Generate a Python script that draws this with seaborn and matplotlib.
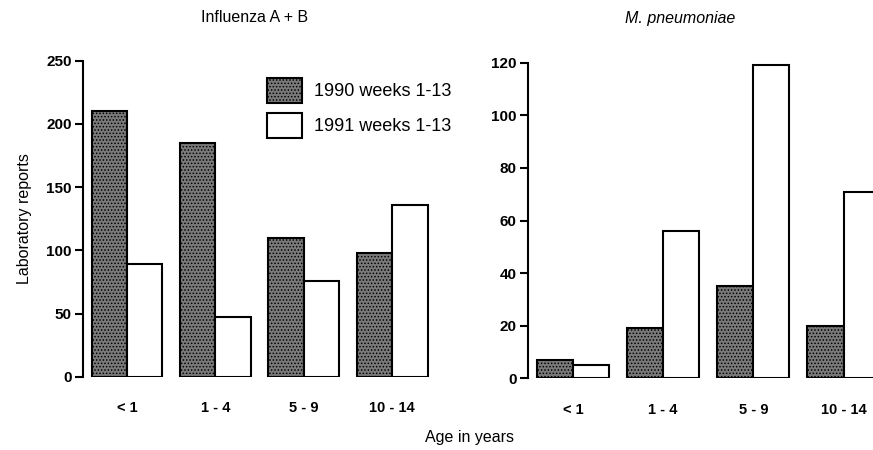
import numpy as np
import pandas as pd
import seaborn as sns
import matplotlib.pyplot as plt
from matplotlib.patches import Patch

ages = ['< 1', '1 - 4', '5 - 9', '10 - 14']
years = ['1990 weeks 1-13', '1991 weeks 1-13']
flu_1990 = [210, 185, 110, 98]
flu_1991 = [89, 47, 76, 136]
myco_1990 = [7, 19, 35, 20]
myco_1991 = [5, 56, 119, 71]

sns.set_style('white')
plt.rcParams['font.family'] = ['Liberation Sans', 'DejaVu Sans']
plt.rcParams['text.color'] = 'black'
plt.rcParams['axes.labelcolor'] = 'black'
plt.rcParams['xtick.color'] = 'black'
plt.rcParams['ytick.color'] = 'black'
plt.rcParams['hatch.color'] = '#303030'
plt.rcParams['hatch.linewidth'] = 0.7

def make_df(a, b):
    return pd.DataFrame({'age': ages * 2,
                         'year': [years[0]] * 4 + [years[1]] * 4,
                         'reports': a + b})

pal = {years[0]: '#7a7a7a', years[1]: 'white'}

fig = plt.figure(figsize=(8.73, 4.5), dpi=100)
ax1 = fig.add_axes([0.0947, 0.1629, 0.4052, 0.7021])
ax2 = fig.add_axes([0.6045, 0.1593, 0.4135, 0.7014])

for ax, df, ymax, step in [(ax1, make_df(flu_1990, flu_1991), 250, 50),
                           (ax2, make_df(myco_1990, myco_1991), 120, 20)]:
    sns.barplot(data=df, x='age', y='reports', hue='year', palette=pal,
                order=ages, hue_order=years, width=0.8, ax=ax,
                edgecolor='black', linewidth=1.5, legend=False)
    for p in ax.patches[:4]:
        p.set_hatch('.....')
    ax.set_xlim(-0.5, 3.5)
    ax.set_ylim(0, ymax)
    ax.set_yticks(np.arange(0, ymax + 1, step))
    ax.set_xlabel('')
    ax.set_ylabel('')
    for s in ['top', 'right', 'bottom']:
        ax.spines[s].set_visible(False)
    ax.spines['left'].set_linewidth(1.5)
    ax.spines['left'].set_color('black')
    ax.tick_params(axis='y', left=True, length=6, width=1.5, labelsize=11, pad=2)
    ax.tick_params(axis='x', bottom=False, labelsize=10.5, pad=14)
    for t in ax.get_xticklabels() + ax.get_yticklabels():
        t.set_fontweight('bold')

ax1.set_ylabel('Laboratory reports', fontsize=11.5, labelpad=10)
fig.text(0.292, 0.96, 'Influenza A + B', ha='center', va='center', fontsize=11.5)
fig.text(0.779, 0.96, 'M. pneumoniae', ha='center', va='center', fontsize=11.5,
         style='italic')
fig.text(0.538, 0.028, 'Age in years', ha='center', va='center', fontsize=11.5)

handles = [Patch(facecolor=pal[years[0]], edgecolor='black', hatch='.....', linewidth=1.5),
           Patch(facecolor='white', edgecolor='black', linewidth=1.5)]
ax1.legend(handles, years, loc='upper right', bbox_to_anchor=(1.087, 0.998),
           frameon=False, fontsize=13, handlelength=1.94, handleheight=1.76,
           handletextpad=0.65, labelspacing=0.55)

fig.savefig('out.png', dpi=100)
